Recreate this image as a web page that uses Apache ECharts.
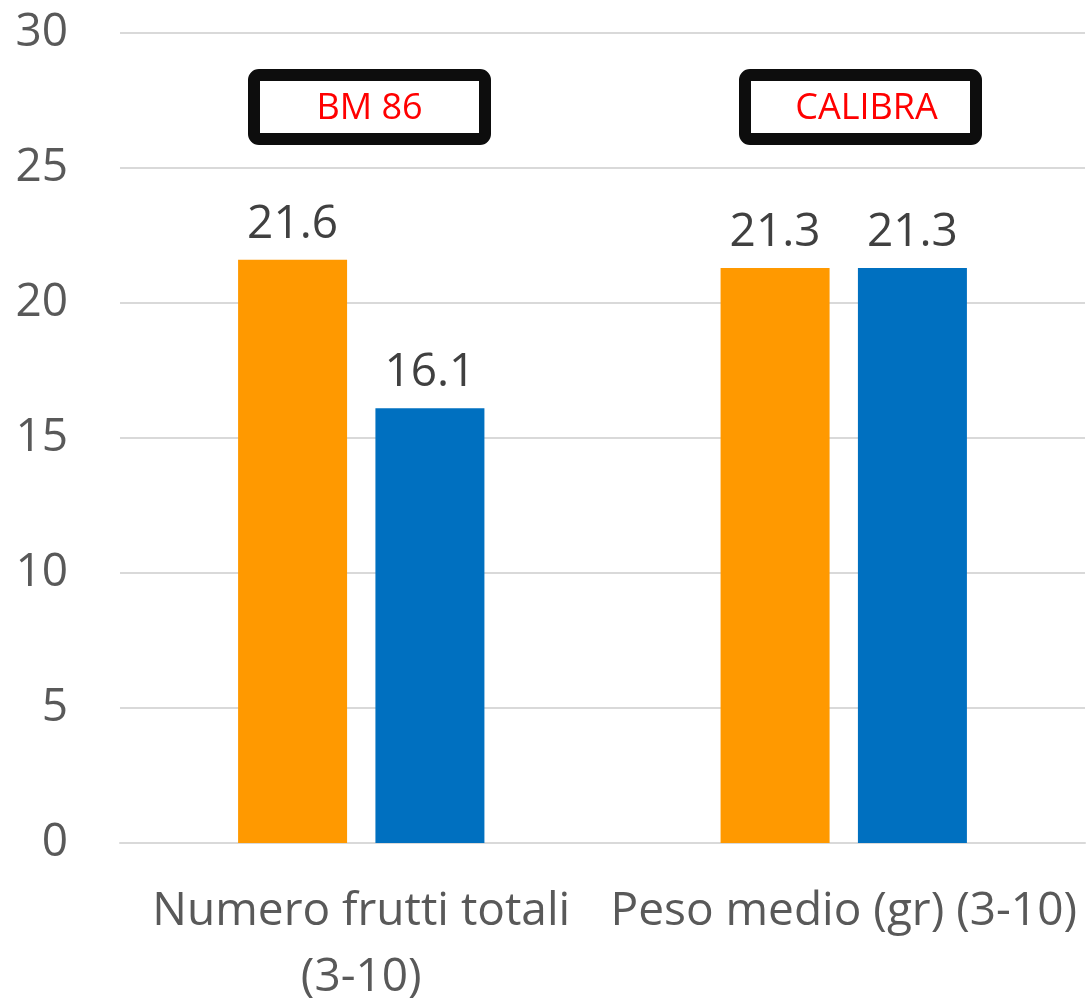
<!DOCTYPE html>
<html>
<head>
<meta charset="utf-8">
<script src="https://cdn.jsdelivr.net/npm/echarts@6/dist/echarts.min.js"></script>
<style>
  html, body { margin: 0; padding: 0; background: #fff; }
  #bar { width: 1091px; height: 1003px; }
</style>
</head>
<body>
<div id="bar"></div>
<script>
var categories = ['Numero frutti totali\n(3-10)', 'Peso medio (gr) (3-10)'];
var serieArancio = [21.6, 21.3];
var serieBlu = [16.1, 21.3];
var yTicks = [0, 5, 10, 15, 20, 25, 30];
var boxLabels = ['BM 86', 'CALIBRA'];

var font = 'Open Sans';

function box(x, label) {
    // riquadro con bordo nero spesso e testo rosso
    return {
        type: 'group',
        left: x,
        top: 69,
        children: [{
            type: 'rect',
            shape: { x: 6, y: 6, width: 231, height: 64, r: 5 },
            style: { fill: '#fff', stroke: '#0d0d0d', lineWidth: 12 }
        }, {
            type: 'text',
            style: {
                x: 121.5 + (label === 'CALIBRA' ? 6 : 0),
                y: 40,
                text: label,
                fill: '#ff0000',
                font: '36px "' + font + '"',
                align: 'center',
                verticalAlign: 'middle'
            }
        }]
    };
}

var myChart = echarts.init(document.getElementById('bar'));
var option = {
    animation: false,
    grid: {
        left: 120,
        right: 6,
        top: 33,
        bottom: 160,
        outerBoundsMode: 'none'
    },
    xAxis: {
        type: 'category',
        data: categories,
        axisLine: { lineStyle: { color: '#d9d9d9', width: 2 } },
        axisTick: { show: false },
        axisLabel: {
            interval: 0,
            color: '#595959',
            fontFamily: font,
            fontSize: 46,
            lineHeight: 66,
            margin: 36
        }
    },
    yAxis: {
        type: 'value',
        min: yTicks[0],
        max: yTicks[yTicks.length - 1],
        interval: yTicks[1] - yTicks[0],
        axisLine: { show: false },
        axisTick: { show: false },
        splitLine: { lineStyle: { color: '#d9d9d9', width: 2 } },
        axisLabel: {
            color: '#595959',
            fontFamily: font,
            fontSize: 46,
            margin: 52
        }
    },
    series: [{
        name: 'Serie 1',
        type: 'bar',
        data: serieArancio,
        barWidth: 109,
        barGap: '26%',
        itemStyle: { color: '#ff9900' },
        label: {
            show: true,
            position: 'top',
            distance: 12,
            color: '#404040',
            fontFamily: font,
            fontSize: 46
        }
    }, {
        name: 'Serie 2',
        type: 'bar',
        data: serieBlu,
        barWidth: 109,
        itemStyle: { color: '#0070c0' },
        label: {
            show: true,
            position: 'top',
            distance: 12,
            color: '#404040',
            fontFamily: font,
            fontSize: 46
        }
    }],
    graphic: [box(248, boxLabels[0]), box(739, boxLabels[1])]
};
myChart.setOption(option);
</script>
</body>
</html>
